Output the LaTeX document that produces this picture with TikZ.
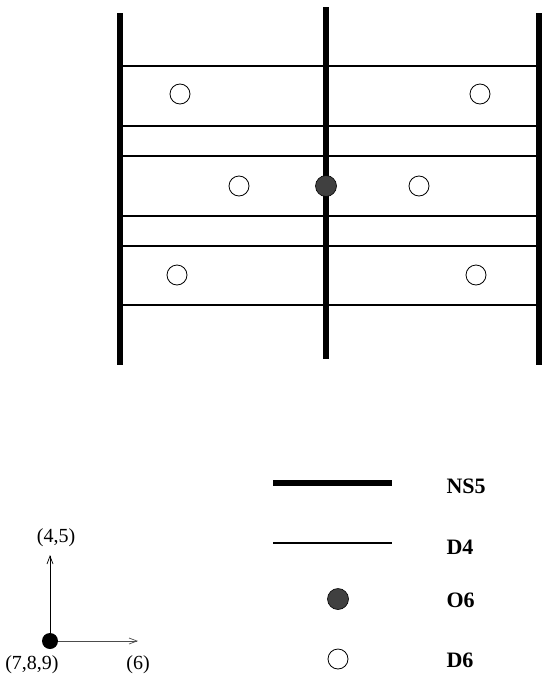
\documentclass[tikz,border=0pt]{standalone}
\usepackage{fontspec}
\setmainfont{Liberation Serif}
\usetikzlibrary{positioning,arrows.meta}

\begin{document}
\begin{tikzpicture}[x=1pt,y=-1pt,
    nsfive/.style={line width=6pt},
    dfour/.style={line width=1.3pt},
    dsix/.style={circle, draw, line width=0.8pt, fill=white, minimum size=20pt, inner sep=0pt},
    osix/.style={circle, draw, line width=0.6pt, fill=black!75, minimum size=21pt, inner sep=0pt},
    legtext/.style={font=\bfseries\fontsize{22}{24}\selectfont, anchor=west},
    axtext/.style={font=\fontsize{20}{22}\selectfont},
    axarrow/.style={-{Straight Barb[length=8pt,width=6pt]}, line width=0.7pt}]
    % picture size
    \useasboundingbox (0,0) rectangle (545,680);
    \def\xleft{120}
    \def\xmid{326}
    \def\xright{539}

    % D4 branes between the NS5 branes
    \foreach \y in {66,126,156,216,246,305}
        \draw[dfour] (\xleft,\y) -- (\xright,\y);

    % NS5 branes
    \draw[nsfive] (\xleft,13) -- (\xleft,365);
    \draw[nsfive] (\xmid,7) -- (\xmid,359);
    \draw[nsfive] (\xright,13) -- (\xright,365);

    % D6 branes
    \foreach \x/\y [count=\i] in {180/94,480/94,239/186,419/186,177/275,476/275}
        \node[dsix] (dsix\i) at (\x,\y) {};

    % O6 plane on the middle NS5
    \node[osix] (osix) at (\xmid,186) {};

    % legend
    \coordinate (nsa) at (273,483);
    \coordinate (nsb) at (392,483);
    \draw[nsfive] (nsa) -- (nsb);
    \node[legtext] (nslabel) at (443,486) {NS5};

    \coordinate (dfa) at (273,543);
    \coordinate (dfb) at (392,543);
    \draw[dfour] (dfa) -- (dfb);
    \node[legtext] (dflabel) at (443,547) {D4};

    \node[osix] (osixleg) at (338,599) {};
    \node[legtext] (oslabel) at (443,600) {O6};

    \node[dsix] (dsixleg) at (338,659) {};
    \node[legtext] (dslabel) at (443,660) {D6};

    % directions
    \node[circle, fill=black, minimum size=16pt, inner sep=0pt] (origin) at (50,641) {};
    \coordinate (up) at (50,555);
    \coordinate (rt) at (138,641);
    \draw[axarrow] (origin.center) -- (up);
    \draw[axarrow, black!70] (origin.east) -- (rt);
    \node[axtext] (lup) at (56,538) {(4,5)};
    \node[axtext] (lrt) at (138,665) {(6)};
    \node[axtext] (lor) at (32,665) {(7,8,9)};
\end{tikzpicture}
\end{document}
